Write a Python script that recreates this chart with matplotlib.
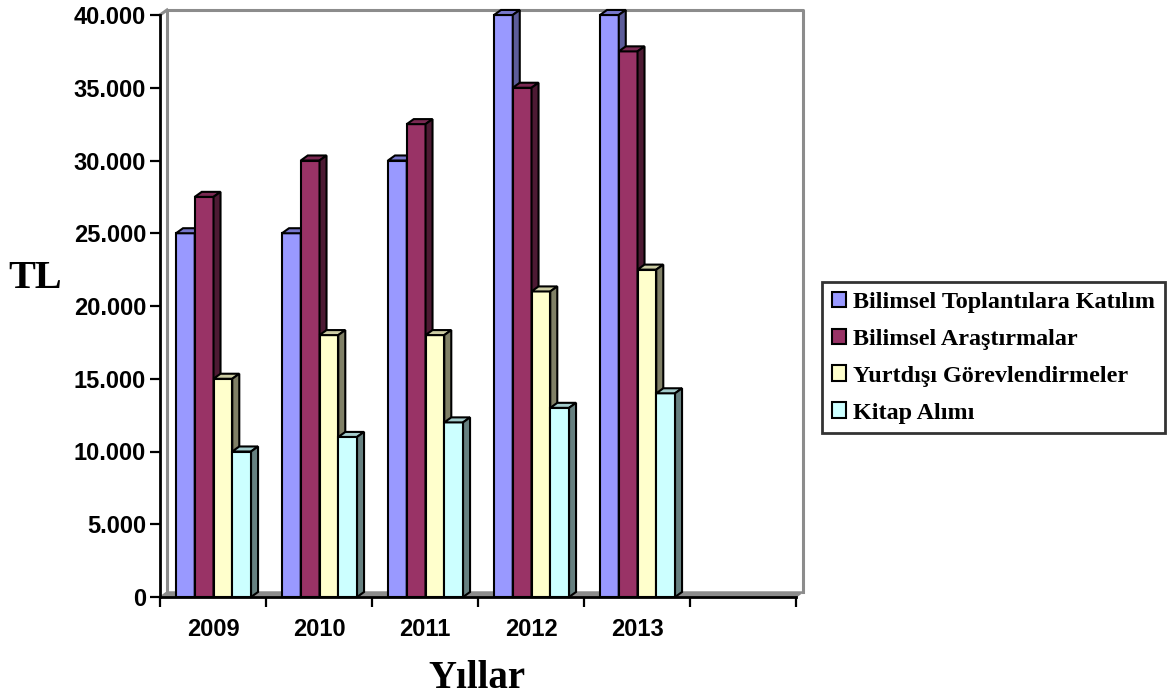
"""3D-style grouped bar chart: yearly budget (TL) by category, 2009-2013."""

import matplotlib

matplotlib.use("Agg")
import matplotlib.pyplot as plt
from matplotlib.patches import Patch, Polygon

YEARS = ["2009", "2010", "2011", "2012", "2013"]
SERIES = [
    "Bilimsel Toplantılara Katılım",
    "Bilimsel Araştırmalar",
    "Yurtdışı Görevlendirmeler",
    "Kitap Alımı",
]
TOPLANTI = [25000, 25000, 30000, 40000, 40000]
ARASTIRMA = [27500, 30000, 32500, 35000, 37500]
YURTDISI = [15000, 18000, 18000, 21000, 22500]
KITAP = [10000, 11000, 12000, 13000, 14000]
YTICKS = [0, 5000, 10000, 15000, 20000, 25000, 30000, 35000, 40000]
YTICK_LABELS = ["0", "5.000", "10.000", "15.000", "20.000", "25.000", "30.000", "35.000", "40.000"]

FRONT = ["#9999FF", "#993366", "#FFFFCC", "#CCFFFF"]
TOP = ["#7777CC", "#7A2952", "#CCCCA3", "#A3CCCC"]
SIDE = ["#5C5C99", "#4D1A33", "#808066", "#668080"]

N_CAT = 6          # five years plus one empty slot, as in the original
BAR_W = 0.177
OFFSET = 0.151
DX, DY = 0.066, 345
YMAX = 40000


def draw_bar(ax, x, h, j, z):
    kw = dict(edgecolor="black", lw=1.5, zorder=z, clip_on=False)
    ax.add_patch(Polygon([(x, 0), (x + BAR_W, 0), (x + BAR_W, h), (x, h)],
                         facecolor=FRONT[j], **kw))
    ax.add_patch(Polygon([(x, h), (x + BAR_W, h), (x + BAR_W + DX, h + DY), (x + DX, h + DY)],
                         facecolor=TOP[j], **kw))
    ax.add_patch(Polygon([(x + BAR_W, 0), (x + BAR_W + DX, DY), (x + BAR_W + DX, h + DY),
                          (x + BAR_W, h)],
                         facecolor=SIDE[j], **kw))


def main():
    fig = plt.figure(figsize=(11.72, 7.0), dpi=100)
    ax = fig.add_axes([160 / 1172, 103 / 700, 636 / 1172, 582 / 700])
    ax.set_xlim(0, N_CAT)
    ax.set_ylim(0, YMAX)

    # back wall and floor
    wall = dict(color="#8C8C8C", lw=2.2, clip_on=False, zorder=1)
    ax.plot([DX, DX, N_CAT + DX, N_CAT + DX], [DY, YMAX + DY, YMAX + DY, DY], **wall)
    ax.plot([0, DX], [YMAX, YMAX + DY], **wall)
    ax.add_patch(Polygon([(0, 0), (N_CAT, 0), (N_CAT + DX, DY), (DX, DY)],
                         facecolor="#8C8C8C", edgecolor="#8C8C8C", lw=1, clip_on=False, zorder=1))

    data = [TOPLANTI, ARASTIRMA, YURTDISI, KITAP]
    z = 3
    for i in range(len(YEARS)):
        for j, vals in enumerate(data):
            draw_bar(ax, i + OFFSET + j * BAR_W, vals[i], j, z)
            z += 1

    for s in ["top", "right"]:
        ax.spines[s].set_visible(False)
    for s in ["left", "bottom"]:
        ax.spines[s].set_linewidth(2)
        ax.spines[s].set_zorder(50)

    ax.set_yticks(YTICKS)
    ax.set_yticklabels(YTICK_LABELS, fontfamily="Liberation Sans", fontweight="bold", fontsize=17)
    ax.tick_params(axis="y", length=7, width=1.6, pad=3)

    ax.set_xticks([i + 0.5 for i in range(len(YEARS))])
    ax.set_xticklabels(YEARS, fontfamily="Liberation Sans", fontweight="bold", fontsize=17)
    ax.set_xticks(range(N_CAT + 1), minor=True)
    ax.tick_params(axis="x", which="major", length=0, pad=15)
    ax.tick_params(axis="x", which="minor", length=7, width=1.6)

    fig.text(35 / 1172, 1 - 278 / 700, "TL", fontfamily="Liberation Serif", fontweight="bold",
             fontsize=29, ha="center", va="center")
    fig.text(477 / 1172, 1 - 678 / 700, "Yıllar", fontfamily="Liberation Serif",
             fontweight="bold", fontsize=28, ha="center", va="center")

    handles = [Patch(facecolor=c, edgecolor="black", lw=1.5) for c in FRONT]
    leg = fig.legend(handles, SERIES, loc="upper left", bbox_to_anchor=(822 / 1172, 1 - 282 / 700),
                     prop={"family": "Liberation Serif", "weight": "bold", "size": 17.4},
                     frameon=True, fancybox=False, edgecolor="black", handlelength=0.6,
                     handleheight=0.6, handletextpad=0.3, labelspacing=0.65, borderpad=0.4,
                     borderaxespad=0)
    leg.get_frame().set_linewidth(2)

    fig.savefig("out.png", dpi=100)


if __name__ == "__main__":
    main()
